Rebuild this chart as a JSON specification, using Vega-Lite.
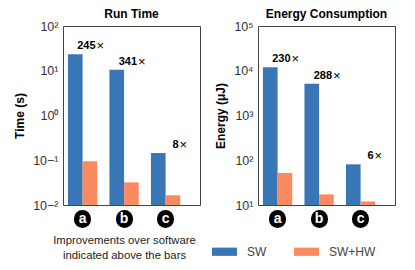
{
  "$schema": "https://vega.github.io/schema/vega-lite/v6.json",
  "padding": {"left": 13, "top": 7, "right": 5, "bottom": 5},
  "bounds": "flush",
  "spacing": 58,
  "config": {
    "font": "Liberation Sans",
    "view": {"stroke": "#444", "strokeWidth": 1},
    "title": {"fontSize": 12, "fontWeight": "bold", "color": "#000", "offset": -1}
  },
  "datasets": {
    "time": [
      {"group": "a", "series": "SW", "value": 23.4, "ratio": "245"},
      {"group": "a", "series": "SW+HW", "value": 0.095, "ratio": ""},
      {"group": "b", "series": "SW", "value": 10.5, "ratio": "341"},
      {"group": "b", "series": "SW+HW", "value": 0.032, "ratio": ""},
      {"group": "c", "series": "SW", "value": 0.145, "ratio": "8"},
      {"group": "c", "series": "SW+HW", "value": 0.0165, "ratio": ""}
    ],
    "energy": [
      {"group": "a", "series": "SW", "value": 12000, "ratio": "230"},
      {"group": "a", "series": "SW+HW", "value": 52, "ratio": ""},
      {"group": "b", "series": "SW", "value": 5100, "ratio": "288"},
      {"group": "b", "series": "SW+HW", "value": 17.3, "ratio": ""},
      {"group": "c", "series": "SW", "value": 81, "ratio": "6"},
      {"group": "c", "series": "SW+HW", "value": 12, "ratio": ""}
    ]
  },
  "resolve": {"legend": {"color": "independent"}},
  "hconcat": [
    {
      "width": 137,
      "height": 179,
      "title": "Run Time",
      "data": {"name": "time"},
      "encoding": {
        "x": {
          "field": "group", "type": "nominal",
          "scale": {"type": "band", "paddingInner": 0.294, "paddingOuter": 0.2976, "align": 0.2},
          "axis": {
            "domain": false, "offset": 13, "tickSize": 1, "tickWidth": 17, "tickCap": "round", "tickColor": "#000",
            "labelAngle": 0, "labelColor": "#fff", "labelFontWeight": "bold", "labelFontSize": 14, "labelBaseline": "middle", "labelPadding": -0.5,
            "title": ["Improvements over software", "indicated above the bars"],
            "titleFontWeight": "normal", "titleFontSize": 11.3, "titleColor": "#222", "titleLineHeight": 15, "titlePadding": 7, "titleX": 61, "titleAlign": "center"
          }
        },
        "y": {
          "field": "value", "type": "quantitative", "stack": null,
          "scale": {"type": "log", "domain": [0.01, 100], "nice": false},
          "axis": {
            "values": [0.01, 0.1, 1, 10, 100], "grid": false, "ticks": false, "domain": false,
            "labelFontSize": 12.5, "labelColor": "#333", "labelPadding": 5,
            "labelExpr": "'10' + replace(replace(replace(replace(replace(replace(replace(format(round(log(datum.value)/LN10),'d'),'-','⁻'),'0','⁰'),'1','¹'),'2','²'),'3','³'),'4','⁴'),'5','⁵')",
            "title": "Time (s)", "titleFontSize": 12, "titleFontWeight": "bold", "titleColor": "#000", "titlePadding": 6
          }
        }
      },
      "layer": [
        {
          "mark": {"type": "bar"},
          "encoding": {
            "xOffset": {"field": "series", "type": "nominal"},
            "color": {"field": "series", "type": "nominal", "scale": {"domain": ["SW", "SW+HW"], "range": ["#3976b5", "#fc8a60"]}, "legend": null}
          }
        },
        {
          "transform": [{"filter": "datum.series == 'SW'"}],
          "mark": {"type": "text", "align": "right", "baseline": "middle", "dx": 13, "dy": -8, "fontSize": 11, "fontWeight": "bold", "color": "#000"},
          "encoding": {"text": {"field": "ratio"}}
        },
        {
          "transform": [{"filter": "datum.series == 'SW'"}],
          "mark": {"type": "text", "align": "left", "baseline": "middle", "dx": 14, "dy": -8, "fontSize": 13, "color": "#000"},
          "encoding": {"text": {"value": "×"}}
        }
      ]
    },
    {
      "width": 137,
      "height": 179,
      "title": "Energy Consumption",
      "data": {"name": "energy"},
      "encoding": {
        "x": {
          "field": "group", "type": "nominal",
          "scale": {"type": "band", "paddingInner": 0.294, "paddingOuter": 0.2976, "align": 0.2},
          "axis": {
            "domain": false, "offset": 13, "tickSize": 1, "tickWidth": 17, "tickCap": "round", "tickColor": "#000",
            "labelAngle": 0, "labelColor": "#fff", "labelFontWeight": "bold", "labelFontSize": 14, "labelBaseline": "middle", "labelPadding": -0.5,
            "title": null
          }
        },
        "y": {
          "field": "value", "type": "quantitative", "stack": null,
          "scale": {"type": "log", "domain": [10, 100000], "nice": false},
          "axis": {
            "values": [10, 100, 1000, 10000, 100000], "grid": false, "ticks": false, "domain": false,
            "labelFontSize": 12.5, "labelColor": "#333", "labelPadding": 5,
            "labelExpr": "'10' + replace(replace(replace(replace(replace(replace(replace(format(round(log(datum.value)/LN10),'d'),'-','⁻'),'0','⁰'),'1','¹'),'2','²'),'3','³'),'4','⁴'),'5','⁵')",
            "title": "Energy (μJ)", "titleFontSize": 12, "titleFontWeight": "bold", "titleColor": "#000", "titlePadding": 6
          }
        }
      },
      "layer": [
        {
          "mark": {"type": "bar"},
          "encoding": {
            "xOffset": {"field": "series", "type": "nominal"},
            "color": {
              "field": "series", "type": "nominal",
              "scale": {"domain": ["SW", "SW+HW"], "range": ["#3976b5", "#fc8a60"]},
              "legend": {
                "title": null, "orient": "none", "legendX": -46, "legendY": 213, "direction": "horizontal",
                "symbolType": "M-1,-0.33H1V0.33H-1Z", "symbolSize": 625, "symbolStrokeWidth": 0, "symbolOpacity": 1,
                "labelOffset": 10, "labelFontSize": 12, "labelColor": "#444", "columnPadding": 27
              }
            }
          }
        },
        {
          "transform": [{"filter": "datum.series == 'SW'"}],
          "mark": {"type": "text", "align": "right", "baseline": "middle", "dx": 13, "dy": -8, "fontSize": 11, "fontWeight": "bold", "color": "#000"},
          "encoding": {"text": {"field": "ratio"}}
        },
        {
          "transform": [{"filter": "datum.series == 'SW'"}],
          "mark": {"type": "text", "align": "left", "baseline": "middle", "dx": 14, "dy": -8, "fontSize": 13, "color": "#000"},
          "encoding": {"text": {"value": "×"}}
        }
      ]
    }
  ]
}
